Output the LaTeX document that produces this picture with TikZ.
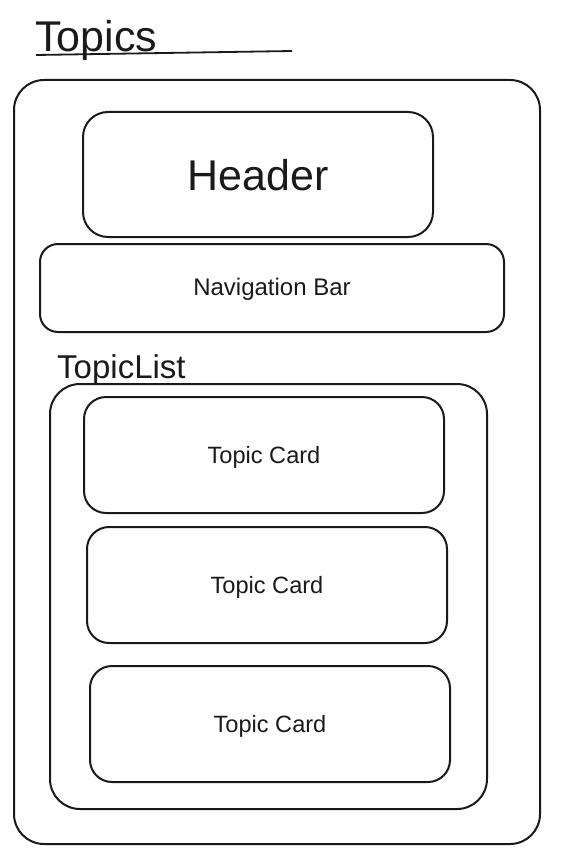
\documentclass[tikz,border=0pt]{standalone}
\usepackage{fontspec}
\setmainfont{Liberation Sans}
\definecolor{ink}{HTML}{1A1A1A}
\begin{document}
\begin{tikzpicture}[x=1pt,y=-1pt,
  box/.style={draw=ink,line width=2pt},
  lbl/.style={text=ink,inner sep=0pt,anchor=base},
  card/.style={lbl,font=\fontsize{23.6}{28}\selectfont}]
\useasboundingbox (0,0) rectangle (583,864);
% title
\node[lbl,font=\fontsize{43}{50}\selectfont,anchor=base west] (title) at (35,52) {Topics};
\coordinate (ulA) at (36,55);
\coordinate (ulB) at (292,51);
\draw[ink,line width=1.8pt] (ulA) -- (ulB);
% outer
\draw[box,rounded corners=30pt] (14,80) rectangle (540,844);
% header
\draw[box,rounded corners=25pt] (83,112) rectangle (433,237);
\node[lbl,font=\fontsize{43}{50}\selectfont] (header) at (258,190) {Header};
% nav
\draw[box,rounded corners=18pt] (40,244) rectangle (504,332);
\node[lbl,font=\fontsize{24}{28}\selectfont] (nav) at (272,295) {Navigation Bar};
% topiclist
\node[lbl,font=\fontsize{33}{38}\selectfont,anchor=base west] (tl) at (57,378) {TopicList};
\draw[box,rounded corners=30pt] (50,384) rectangle (487,809);
% cards
\draw[box,rounded corners=22pt] (84,397) rectangle (444,513);
\node[card] (c1) at (264,463) {Topic Card};
\draw[box,rounded corners=22pt] (87,527) rectangle (447,643);
\node[card] (c2) at (267,593) {Topic Card};
\draw[box,rounded corners=22pt] (90,666) rectangle (450,782);
\node[card] (c3) at (270,732) {Topic Card};
\end{tikzpicture}
\end{document}
